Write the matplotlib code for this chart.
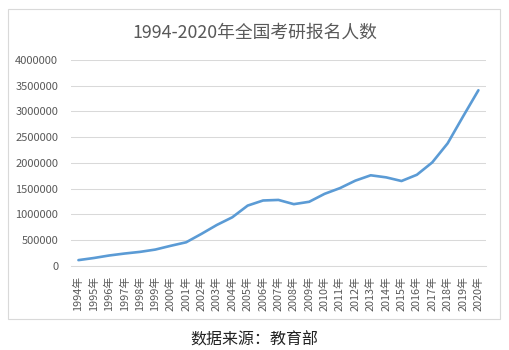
import numpy as np
import matplotlib.pyplot as plt
from matplotlib.patches import Rectangle

plt.rcParams['font.family'] = ['Noto Sans CJK SC', 'DejaVu Sans']

# data (报名人数)
years = [str(y) + '年' for y in range(1994, 2021)]
applicants = [114000, 155000, 204000, 242000, 274000, 319000, 392000, 460000,
              624000, 797000, 945000, 1172000, 1271000, 1282000, 1200000,
              1246000, 1400000, 1511000, 1656000, 1760000, 1720000, 1649000,
              1770000, 2010000, 2380000, 2900000, 3410000]
y_ticks = [0, 500000, 1000000, 1500000, 2000000, 2500000, 3000000, 3500000, 4000000]

fig = plt.figure(figsize=(5.09, 3.5), dpi=100)
ax = fig.add_axes([0.139, 0.24, 0.816, 0.589])

x = np.arange(len(years))
ax.plot(x, applicants, color='#5B9BD5', linewidth=1.9, solid_capstyle='round')

ax.set_xlim(-0.5, len(years) - 0.5)
ax.set_ylim(0, 4000000)
ax.set_yticks(y_ticks)
ax.set_yticklabels([str(v) for v in y_ticks], fontsize=8, color='#595959')
ax.set_xticks(x)
ax.set_xticklabels(years, rotation=90, fontsize=7.8, color='#595959')
ax.tick_params(axis='both', length=0)
ax.tick_params(axis='x', pad=7)
ax.tick_params(axis='y', pad=9)

ax.grid(axis='y', color='#d9d9d9', linewidth=0.75)
ax.set_axisbelow(True)
for s in ['top', 'right', 'left']:
    ax.spines[s].set_visible(False)
ax.spines['bottom'].set_color('#d9d9d9')
ax.spines['bottom'].set_linewidth(0.75)

# outer chart border
fig.patches.append(Rectangle((8 / 509, 1 - 319 / 350), 492 / 509, 310 / 350,
                             transform=fig.transFigure, fill=False,
                             edgecolor='#d9d9d9', linewidth=0.8))

fig.text(0.5, 1 - 33 / 350, '1994-2020年全国考研报名人数', ha='center', va='center',
         fontsize=12.8, color='#595959')
fig.text(0.5, 1 - 340 / 350, '数据来源：教育部', ha='center', va='center',
         fontsize=11.5, color='#222222')

fig.savefig('out.png', dpi=100)
